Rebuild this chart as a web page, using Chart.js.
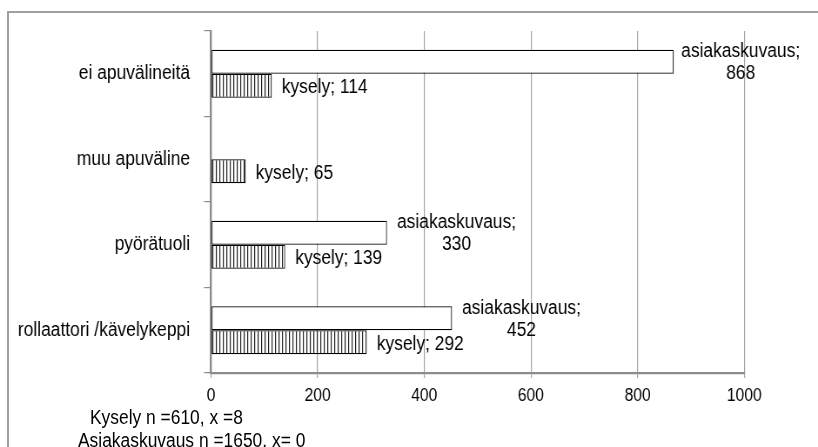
<!DOCTYPE html>
<html>
<head>
<meta charset="utf-8">
<script src="https://cdn.jsdelivr.net/npm/chart.js@4"></script>
<style>
  body { margin: 0; background: #fff; }
  #wrap { position: relative; width: 818px; height: 447px; overflow: hidden; }
  #frame { position: absolute; left: 7px; top: 11px; width: 830px; height: 460px;
           border-left: 2px solid #a0a0a0; border-top: 2px solid #a0a0a0; }
  canvas { position: absolute; left: 0; top: 0; }
  .note { position: absolute; font-family: "Liberation Sans", Arial, sans-serif;
          font-size: 20px; line-height: 22px; color: #000; white-space: nowrap;
          transform: scaleX(0.87); transform-origin: 0 0; }
</style>
</head>
<body>
<div id="wrap">
  <div id="frame"></div>
  <canvas id="myChart" width="940" height="447" style="width:818px;height:447px"></canvas>
  <div class="note" style="left:90px; top:406px;">Kysely n =610, x =8</div>
  <div class="note" style="left:78px; top:429px;">Asiakaskuvaus n =1650, x= 0</div>
</div>
<script>
// data
var categories = ['ei apuvälineitä', 'muu apuväline', 'pyörätuoli', 'rollaattori /kävelykeppi'];
var asiakaskuvaus = [868, null, 330, 452];
var kysely = [114, 65, 139, 292];
var xTicks = [0, 200, 400, 600, 800, 1000];

// the original chart has tall, narrow lettering, so the canvas is drawn
// wider and squeezed into 818px with css
var squeeze = 0.87;
var fontName = '"Liberation Sans", Arial, sans-serif';

function px(v) { return v / squeeze; }

// vertical stripes for the kysely bars
function stripePattern(ctx) {
    var tile = document.createElement('canvas');
    tile.width = 4;
    tile.height = 4;
    var t = tile.getContext('2d');
    t.fillStyle = '#fff';
    t.fillRect(0, 0, 4, 4);
    t.fillStyle = '#222';
    t.fillRect(0, 0, 1.2, 4);
    return ctx.createPattern(tile, 'repeat');
}

// draws "name; value" next to each bar end
var barLabels = {
    id: 'barLabels',
    afterDatasetsDraw(chart) {
        var ctx = chart.ctx;
        ctx.save();
        ctx.font = '20px ' + fontName;
        ctx.fillStyle = '#000';
        ctx.textBaseline = 'middle';
        chart.data.datasets.forEach((ds, i) => {
            var meta = chart.getDatasetMeta(i);
            meta.data.forEach((bar, j) => {
                var v = ds.data[j];
                if (v === null || v === undefined) return;
                if (ds.label == 'kysely') {
                    ctx.textAlign = 'left';
                    ctx.fillText(ds.label + '; ' + v, bar.x + px(10), bar.y + 2);
                } else {
                    var line1 = ds.label + ';';
                    var w = ctx.measureText(line1).width;
                    var left = bar.x + px(10);
                    if (left + w > px(800)) left = px(800) - w;
                    ctx.textAlign = 'center';
                    ctx.fillText(line1, left + w / 2, bar.y - 10);
                    ctx.fillText(String(v), left + w / 2, bar.y + 12);
                }
            });
        });
        ctx.restore();
    }
};

window.onload = () => {
    var ctx = document.getElementById('myChart').getContext('2d');
    var myChart = new Chart(ctx, {
        type: 'bar',
        data: {
            labels: categories,
            datasets: [{
                label: 'asiakaskuvaus',
                data: asiakaskuvaus,
                backgroundColor: '#fff',
                borderColor: '#000',
                borderWidth: 1.2,
                borderSkipped: false
            }, {
                label: 'kysely',
                data: kysely,
                backgroundColor: stripePattern(ctx),
                borderColor: '#000',
                borderWidth: 1.2,
                borderSkipped: false
            }]
        },
        options: {
            responsive: false,
            animation: false,
            indexAxis: 'y',
            categoryPercentage: 0.56,
            barPercentage: 1.0,
            layout: { padding: { left: 0, top: 31, right: 940 - px(744), bottom: 0 } },
            plugins: {
                legend: { display: false },
                tooltip: { enabled: false }
            },
            scales: {
                x: {
                    min: 0,
                    max: 1000,
                    afterBuildTicks: (scale) => {
                        scale.ticks = xTicks.map(v => ({ value: v }));
                    },
                    afterFit: (scale) => { scale.height = 74; },
                    grid: { color: '#a6a6a6', lineWidth: 1.2, tickLength: 5 },
                    border: { color: '#8c8c8c', width: 2.3 },
                    ticks: {
                        color: '#000',
                        padding: 7,
                        maxRotation: 0,
                        callback: (v) => String(v),
                        font: { family: fontName, size: 18 }
                    }
                },
                y: {
                    afterFit: (scale) => { scale.width = px(211); },
                    grid: { drawOnChartArea: false, color: '#8c8c8c', lineWidth: 1.2, tickLength: px(7), offset: true },
                    border: { color: '#8c8c8c', width: 2.3 },
                    ticks: {
                        color: '#000',
                        padding: px(14),
                        font: { family: fontName, size: 20 }
                    }
                }
            }
        },
        plugins: [barLabels]
    });
};
</script>
</body>
</html>
